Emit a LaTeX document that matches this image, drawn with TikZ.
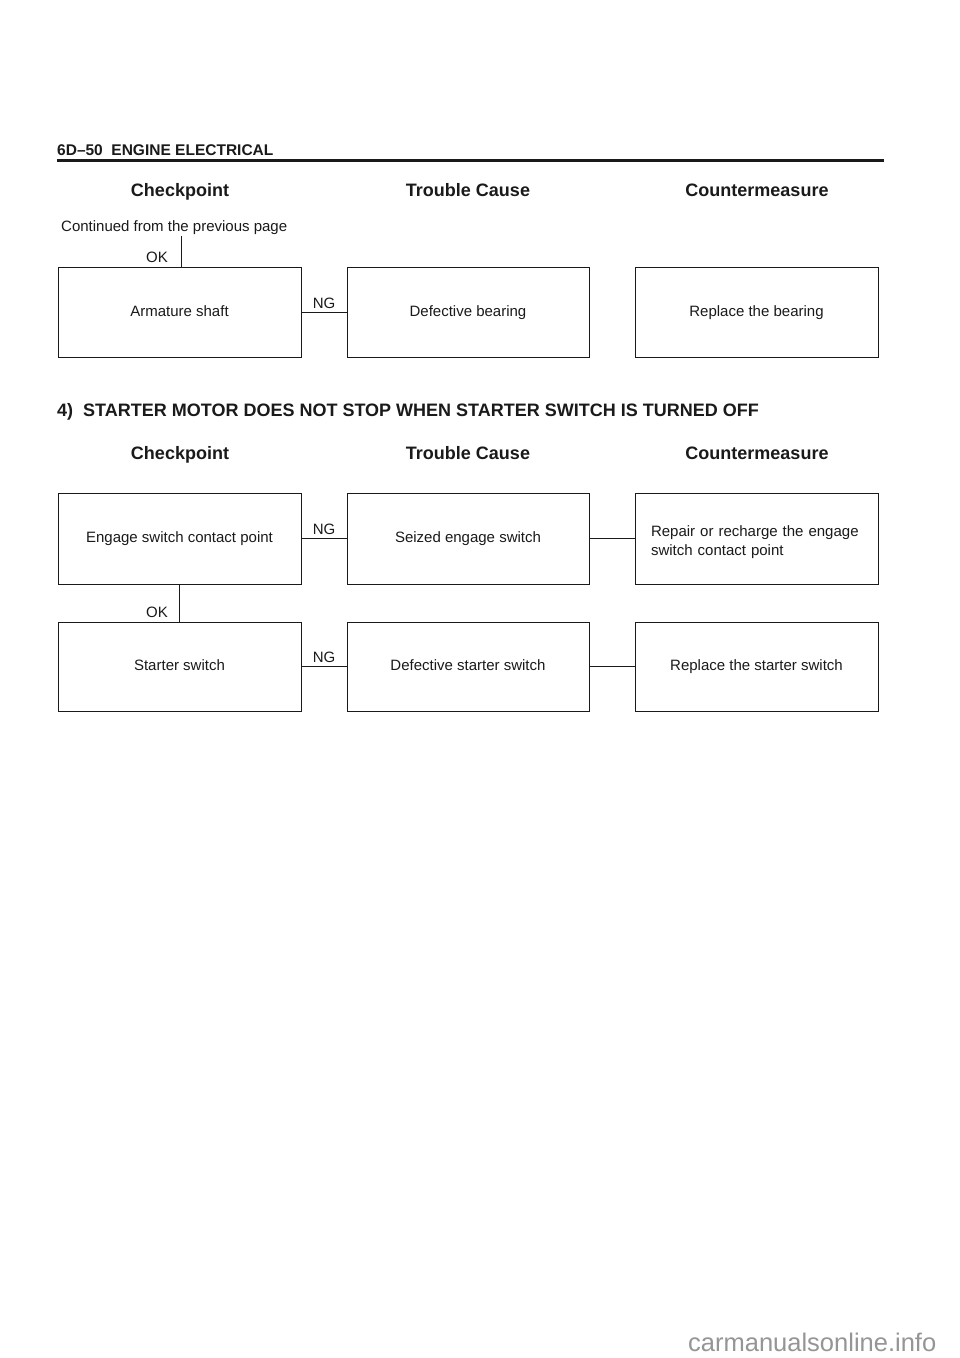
\documentclass[tikz,border=0pt]{standalone}
\usepackage{fontspec}
\setmainfont{Liberation Sans}
\definecolor{ink}{HTML}{1A1A1A}
\definecolor{wmark}{HTML}{959595}
\begin{document}
\begin{tikzpicture}[x=1pt,y=-1pt,
  box/.style={draw=ink, line width=1pt, rectangle, inner sep=0pt, text=ink,
    font=\fontsize{15}{19}\selectfont},
  onebox/.style={box, text height=11pt, text depth=3pt},
  lbl/.style={text=ink, inner sep=0pt, font=\fontsize{15}{19}\selectfont},
  colhead/.style={text=ink, inner sep=0pt, anchor=base, font=\fontsize{18}{22}\selectfont\bfseries},
  conn/.style={draw=ink, line width=1pt}]
\useasboundingbox (0,0) rectangle (960,1358);
\fill[white] (0,0) rectangle (960,1358);

% page header
\node[anchor=base west, text=ink, inner sep=0pt, font=\fontsize{15.5}{18}\selectfont\bfseries] (pagehead) at (57,155) {6D--50\ \ ENGINE ELECTRICAL};
\coordinate (ruleL) at (57,160.5);
\coordinate (ruleR) at (884,160.5);
\draw[ink, line width=2.2pt] (ruleL) -- (ruleR);

% column headers (first table)
\node[colhead] (h1a) at (180,196.5) {Checkpoint};
\node[colhead] (h1b) at (468,196.5) {Trouble Cause};
\node[colhead] (h1c) at (757,196.5) {Countermeasure};

\node[lbl, anchor=base west] (cont) at (61,231) {Continued from the previous page};
\coordinate (contend) at (181,236);

% row 1
\node[onebox, minimum width=243pt, minimum height=90pt] (a1) at (179.5,312) {Armature shaft};
\node[onebox, minimum width=242pt, minimum height=90pt] (a2) at (468,312) {Defective bearing};
\node[onebox, minimum width=243pt, minimum height=90pt] (a3) at (756.5,312) {Replace the bearing};
\draw[conn] (contend) -- (contend |- a1.north);
\node[lbl, anchor=base] (ok1) at (157,262.5) {OK};
\draw[conn] (a1.east) -- (a2.west);
\node[lbl, anchor=base] (ng1) at (324,308) {NG};

% section title
\node[anchor=base west, text=ink, inner sep=0pt, font=\fontsize{18}{22}\selectfont\bfseries] (sect) at (57,416.5) {4)\ \ STARTER MOTOR DOES NOT STOP WHEN STARTER SWITCH IS TURNED OFF};

% column headers (second table)
\node[colhead] (h2a) at (180,459.5) {Checkpoint};
\node[colhead] (h2b) at (468,459.5) {Trouble Cause};
\node[colhead] (h2c) at (757,459.5) {Countermeasure};

% row 2
\node[onebox, minimum width=243pt, minimum height=91pt] (b1) at (179.5,538.5) {Engage switch contact point};
\node[onebox, minimum width=242pt, minimum height=91pt] (b2) at (468,538.5) {Seized engage switch};
\node[box, minimum width=243pt, minimum height=91pt,
  label={[text=ink, inner sep=0pt, text width=211pt, align=left, font=\fontsize{15}{19}\selectfont, yshift=-3.5pt]center:Repair or recharge the engage\\switch contact point}] (b3) at (756.5,538.5) {};
\draw[conn] (b1.east) -- (b2.west);
\node[lbl, anchor=base] (ng2) at (324,534.5) {NG};
\draw[conn] (b2.east) -- (b3.west);

% row 3
\node[onebox, minimum width=243pt, minimum height=89pt] (c1) at (179.5,666.5) {Starter switch};
\node[onebox, minimum width=242pt, minimum height=89pt] (c2) at (468,666.5) {Defective starter switch};
\node[onebox, minimum width=243pt, minimum height=89pt] (c3) at (756.5,666.5) {Replace the starter switch};
\draw[conn] (b1.south) -- (c1.north);
\node[lbl, anchor=base] (ok2) at (157,617.5) {OK};
\draw[conn] (c1.east) -- (c2.west);
\node[lbl, anchor=base] (ng3) at (324,662) {NG};
\draw[conn] (c2.east) -- (c3.west);

% watermark
\node[anchor=west, text=wmark, inner sep=0pt, font=\fontsize{25.5}{28}\selectfont] (wm) at (688,1342) {carmanualsonline.info};
\end{tikzpicture}
\end{document}
